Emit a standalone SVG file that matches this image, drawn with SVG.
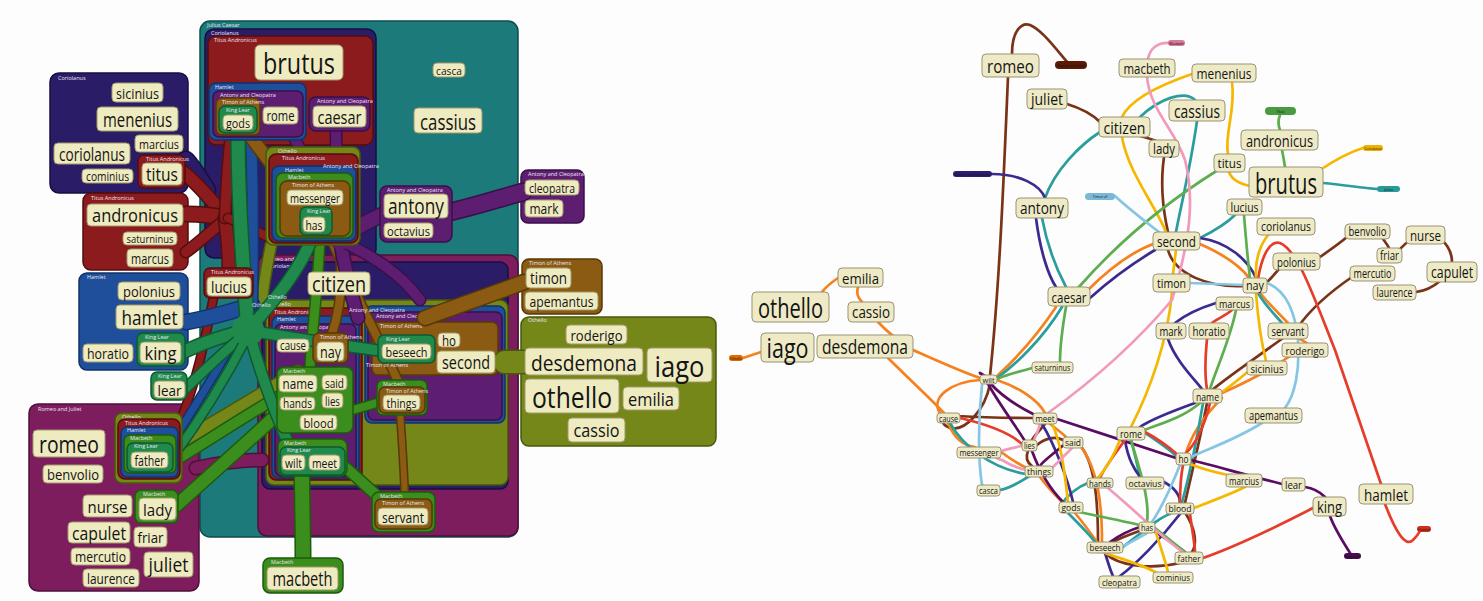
<svg xmlns="http://www.w3.org/2000/svg" xmlns:xlink="http://www.w3.org/1999/xlink" width="1483" height="601" viewBox="0 0 1483 601">
<style>
.jc{fill:#1d7a7b;stroke:#0e4c4d;stroke-width:1.5}
.co{fill:#2b1c68;stroke:#170e42;stroke-width:1.5}
.ti{fill:#8b1b1d;stroke:#560d0e;stroke-width:1.5}
.ha{fill:#1f4f9b;stroke:#11336a;stroke-width:1.5}
.ac{fill:#5d1e71;stroke:#3a0f4a;stroke-width:1.5}
.tm{fill:#8b5a13;stroke:#573806;stroke-width:1.5}
.kl{fill:#1f8a4c;stroke:#0e5a2f;stroke-width:1.5}
.mb{fill:#3b8d1d;stroke:#1d5b0b;stroke-width:1.5}
.ot{fill:#76871a;stroke:#4a580b;stroke-width:1.5}
.rj{fill:#7d1d5e;stroke:#4f0f3b;stroke-width:1.5}
.gl{font-family:"Open Sans","Noto Sans",sans-serif;font-size:5.5px;fill:#ece6f6}
.nl rect{fill:#efebc1;stroke:#a2996b;stroke-width:1}
.nr rect{fill:#eeeac6;stroke:#9a9374;stroke-width:1}
.t{font-family:"Open Sans","Noto Sans",sans-serif;fill:#141414;text-anchor:middle;dominant-baseline:central}
.tent{fill:none;stroke-linecap:round;stroke-linejoin:round}
.o-kl{stroke:#0e5a2f}.f-kl{stroke:#1f8a4c}
.o-mb{stroke:#1d5b0b}.f-mb{stroke:#3b8d1d}
.o-ti{stroke:#560d0e}.f-ti{stroke:#8b1b1d}
.o-ha{stroke:#11336a}.f-ha{stroke:#1f4f9b}
.o-ac{stroke:#3a0f4a}.f-ac{stroke:#5d1e71}
.o-tm{stroke:#573806}.f-tm{stroke:#8b5a13}
.o-ot{stroke:#4a580b}.f-ot{stroke:#76871a}
.o-co{stroke:#170e42}.f-co{stroke:#2b1c68}
.o-rj{stroke:#4f0f3b}.f-rj{stroke:#7d1d5e}
.e{fill:none;stroke-width:2.7;stroke-linecap:round}
.br{stroke:#7a3317}.or{stroke:#f5821f}.te{stroke:#2a9e9c}.in{stroke:#3b2a8f}
.pu{stroke:#5a0c63}.re{stroke:#e63c2a}.ye{stroke:#f5b700}.gr{stroke:#5cae4e}
.pk{stroke:#f19abb}.lb{stroke:#86c6e4}
.tag text{font-family:"Open Sans",sans-serif;font-size:3.5px;fill:#111;text-anchor:middle;dominant-baseline:central}
</style>
<defs>
<path id="tg1" d="M238,132 C238,200 243,270 248,330"/>
<path id="tg2" d="M314,234 C300,270 275,300 250,328"/>
<path id="tg3" d="M248,330 C225,335 205,342 183,352"/>
<path id="tg4" d="M248,332 C225,350 205,370 186,388"/>
<path id="tg5" d="M248,335 C225,380 200,420 172,458"/>
<path id="tg6" d="M248,330 C290,338 340,345 382,351"/>
<path id="tg7" d="M250,335 C262,380 278,420 292,452"/>
<path id="mb1" d="M177,505 C210,475 250,440 282,410"/>
<path id="mb2" d="M172,462 C210,440 245,415 282,395"/>
<path id="mb3" d="M303,560 C303,530 302,500 302,474"/>
<path id="mb4" d="M382,500 C370,490 358,478 345,467"/>
<path id="mb5" d="M380,402 C370,405 360,408 352,410"/>
<path id="mb6" d="M320,236 C318,290 312,330 310,368"/>
<path id="tr1" d="M183,172 C200,185 210,200 225,215"/>
<path id="tr2" d="M186,214 C200,214 212,215 225,218"/>
<path id="tr3" d="M186,252 C200,242 212,230 225,220"/>
<path id="tr4" d="M225,218 C228,240 229,255 229,270"/>
<path id="tr5" d="M225,218 C226,190 228,165 230,143"/>
<path id="tr6" d="M214,295 C205,340 195,390 178,425"/>
<path id="tr7" d="M228,218 C245,225 258,232 270,238"/>
<path id="hb1" d="M186,322 C210,318 230,312 252,305"/>
<path id="hb2" d="M252,305 C253,240 253,180 251,140"/>
<path id="hb3" d="M250,310 C230,350 205,390 180,430"/>
<path id="ac1" d="M382,215 C365,222 352,230 340,240"/>
<path id="ac2" d="M340,240 C338,200 336,165 336,131"/>
<path id="ac3" d="M340,240 C325,200 305,160 288,124"/>
<path id="ac4" d="M450,212 C480,205 500,198 523,192"/>
<path id="ac5" d="M340,240 C345,270 352,295 358,318"/>
<path id="ac6" d="M340,240 C370,255 400,272 420,300"/>
<path id="tm1" d="M245,128 C260,150 275,170 292,186"/>
<path id="tm2" d="M330,236 C352,290 380,340 400,386"/>
<path id="tm3" d="M400,412 C402,440 404,470 405,500"/>
<path id="tm4" d="M524,282 C490,295 460,305 425,318"/>
<path id="tm5" d="M338,236 C345,280 340,310 332,334"/>
<path id="ol1" d="M524,362 L505,362"/>
<path id="ol2" d="M180,442 C220,420 260,395 298,372"/>
<path id="ol3" d="M272,240 C268,260 264,280 262,300"/>
<path id="ci1" d="M186,160 C195,170 200,180 207,190"/>
<path id="rj1" d="M196,468 C220,463 240,460 262,460"/>
</defs>
<rect x="0" y="0" width="1483" height="601" fill="#fdfdfd"/>

<!-- LEFT PANEL: containers -->
<g id="left-containers">
<g id="box-julius-caesar"><rect class="jc" x="200" y="21" width="318" height="516" rx="10"/><text class="gl" x="207" y="27">Julius Caesar</text></g>
<g id="box-coriolanus-top"><rect class="co" x="205" y="29" width="171" height="229" rx="9"/><text class="gl" x="211" y="35">Coriolanus</text></g>
<g id="box-titus-top"><rect class="ti" x="208" y="36" width="165" height="109" rx="8"/><text class="gl" x="214" y="42">Titus Andronicus</text></g>
<g id="box-romeo-main"><rect class="rj" x="258" y="255" width="260" height="281" rx="9"/><text class="gl" x="265" y="261">Romeo and Juliet</text></g>
<g id="box-coriolanus-low"><rect class="co" x="262" y="262" width="246" height="227" rx="8"/><text class="gl" x="268" y="268">Coriolanus</text></g>
<g id="box-othello-low"><rect class="ot" x="266" y="300" width="242" height="185" rx="8"/><text class="gl" x="272" y="306">Othello</text></g>
<g id="box-titus-low"><rect class="ti" x="269" y="308" width="93" height="172" rx="7"/><text class="gl" x="274" y="314">Titus Andronicus</text></g>
<g id="box-hamlet-low"><rect class="ha" x="272" y="316" width="87" height="162" rx="7"/><text class="gl" x="277" y="321">Hamlet</text></g>
<g id="box-ac-low"><rect class="ac" x="275" y="324" width="81" height="152" rx="6"/><text class="gl" x="280" y="329">Antony and Cleopatra</text></g>
<g id="box-hamlet-right"><rect class="ha" x="365" y="306" width="140" height="117" rx="7"/></g>
<g id="box-ac-right"><rect class="ac" x="368" y="312" width="134" height="108" rx="6"/><text class="gl" x="376" y="318">Antony and Cleopatra</text></g>
<g id="box-timon-second"><rect class="tm" x="372" y="322" width="126" height="53" rx="6"/><text class="gl" x="380" y="328">Timon of Athens</text></g>
<g id="box-coriolanus-left"><rect class="co" x="50" y="73" width="138" height="120" rx="9"/><text class="gl" x="58" y="80">Coriolanus</text></g>
<g id="box-titus-left"><rect class="ti" x="83" y="193" width="105" height="77" rx="8"/><text class="gl" x="91" y="200">Titus Andronicus</text></g>
<g id="box-hamlet-left"><rect class="ha" x="79" y="273" width="109" height="97" rx="8"/><text class="gl" x="87" y="279">Hamlet</text></g>
<g id="box-romeo-left"><rect class="rj" x="29" y="404" width="170" height="187" rx="9"/><text class="gl" x="38" y="411">Romeo and Juliet</text></g>
<g id="box-ac-cleo"><rect class="ac" x="521" y="170" width="63" height="53" rx="7"/><text class="gl" x="528" y="176">Antony and Cleopatra</text></g>
<g id="box-timon-right"><rect class="tm" x="522" y="259" width="80" height="55" rx="7"/><text class="gl" x="529" y="265">Timon of Athens</text></g>
<g id="box-othello-right"><rect class="ot" x="521" y="317" width="195" height="129" rx="8"/><text class="gl" x="528" y="322">Othello</text></g>
</g>

<!-- LEFT PANEL: tentacle connectors -->
<g id="left-connectors" class="tent">
<use href="#ci1" class="o-co" stroke-width="19"/><use href="#ci1" class="f-co" stroke-width="16"/>
<use href="#rj1" class="o-rj" stroke-width="15"/><use href="#rj1" class="f-rj" stroke-width="12"/>
<use href="#ol2" class="o-ot" stroke-width="15"/><use href="#ol2" class="f-ot" stroke-width="12"/>
<use href="#ol3" class="o-ot" stroke-width="13"/><use href="#ol3" class="f-ot" stroke-width="10"/>
<use href="#ol1" class="o-ot" stroke-width="25"/><use href="#ol1" class="f-ot" stroke-width="22"/>
<use href="#tr1" class="o-ti" stroke-width="15"/><use href="#tr1" class="f-ti" stroke-width="12"/>
<use href="#tr2" class="o-ti" stroke-width="17"/><use href="#tr2" class="f-ti" stroke-width="14"/>
<use href="#tr3" class="o-ti" stroke-width="13"/><use href="#tr3" class="f-ti" stroke-width="10"/>
<use href="#tr4" class="o-ti" stroke-width="15"/><use href="#tr4" class="f-ti" stroke-width="12"/>
<use href="#tr5" class="o-ti" stroke-width="13"/><use href="#tr5" class="f-ti" stroke-width="10"/>
<use href="#tr6" class="o-ti" stroke-width="10"/><use href="#tr6" class="f-ti" stroke-width="7"/>
<use href="#tr7" class="o-ti" stroke-width="11"/><use href="#tr7" class="f-ti" stroke-width="8"/>
<use href="#hb1" class="o-ha" stroke-width="17"/><use href="#hb1" class="f-ha" stroke-width="14"/>
<use href="#hb2" class="o-ha" stroke-width="13"/><use href="#hb2" class="f-ha" stroke-width="10"/>
<use href="#hb3" class="o-ha" stroke-width="10"/><use href="#hb3" class="f-ha" stroke-width="7"/>
<use href="#tm1" class="o-tm" stroke-width="15"/><use href="#tm1" class="f-tm" stroke-width="12"/>
<use href="#tm2" class="o-tm" stroke-width="11"/><use href="#tm2" class="f-tm" stroke-width="8"/>
<use href="#tm3" class="o-tm" stroke-width="9"/><use href="#tm3" class="f-tm" stroke-width="6"/>
<use href="#tm4" class="o-tm" stroke-width="17"/><use href="#tm4" class="f-tm" stroke-width="14"/>
<use href="#tm5" class="o-tm" stroke-width="11"/><use href="#tm5" class="f-tm" stroke-width="8"/>
<use href="#ac1" class="o-ac" stroke-width="17"/><use href="#ac1" class="f-ac" stroke-width="14"/>
<use href="#ac2" class="o-ac" stroke-width="13"/><use href="#ac2" class="f-ac" stroke-width="10"/>
<use href="#ac3" class="o-ac" stroke-width="13"/><use href="#ac3" class="f-ac" stroke-width="10"/>
<use href="#ac4" class="o-ac" stroke-width="19"/><use href="#ac4" class="f-ac" stroke-width="16"/>
<use href="#ac5" class="o-ac" stroke-width="15"/><use href="#ac5" class="f-ac" stroke-width="12"/>
<use href="#ac6" class="o-ac" stroke-width="13"/><use href="#ac6" class="f-ac" stroke-width="10"/>
<circle cx="340" cy="240" r="10" fill="#5d1e71"/>
<use href="#mb1" class="o-mb" stroke-width="15"/><use href="#mb1" class="f-mb" stroke-width="12"/>
<use href="#mb2" class="o-mb" stroke-width="13"/><use href="#mb2" class="f-mb" stroke-width="10"/>
<use href="#mb3" class="o-mb" stroke-width="17"/><use href="#mb3" class="f-mb" stroke-width="14"/>
<use href="#mb4" class="o-mb" stroke-width="13"/><use href="#mb4" class="f-mb" stroke-width="10"/>
<use href="#mb5" class="o-mb" stroke-width="11"/><use href="#mb5" class="f-mb" stroke-width="8"/>
<use href="#mb6" class="o-mb" stroke-width="12"/><use href="#mb6" class="f-mb" stroke-width="9"/>
<use href="#tg1" class="o-kl" stroke-width="16"/><use href="#tg1" class="f-kl" stroke-width="13"/>
<use href="#tg2" class="o-kl" stroke-width="14"/><use href="#tg2" class="f-kl" stroke-width="11"/>
<use href="#tg3" class="o-kl" stroke-width="15"/><use href="#tg3" class="f-kl" stroke-width="12"/>
<use href="#tg4" class="o-kl" stroke-width="12"/><use href="#tg4" class="f-kl" stroke-width="9"/>
<use href="#tg5" class="o-kl" stroke-width="11"/><use href="#tg5" class="f-kl" stroke-width="8"/>
<use href="#tg6" class="o-kl" stroke-width="13"/><use href="#tg6" class="f-kl" stroke-width="10"/>
<use href="#tg7" class="o-kl" stroke-width="13"/><use href="#tg7" class="f-kl" stroke-width="10"/>
<circle cx="248" cy="330" r="16" fill="#1f8a4c"/>
</g>

<!-- LEFT PANEL: extra group labels -->
<g id="left-labels">
<text class="gl" x="252" y="307">Othello</text>
<text class="gl" x="268" y="299">Othello</text>
<text class="gl" x="349" y="312">Antony and Cleopatra</text>
<text class="gl" x="366" y="367">Timon of Athens</text>
</g>

<!-- LEFT PANEL: nested node boxes -->
<g id="left-nodes">
<g id="box-hamlet-gods"><rect class="ha" x="209" y="83" width="97" height="57" rx="7"/><text class="gl" x="215" y="89">Hamlet</text></g>
<g id="box-ac-gods"><rect class="ac" x="213" y="91" width="90" height="46" rx="6"/><text class="gl" x="220" y="97">Antony and Cleopatra</text></g>
<g id="box-timon-gods"><rect class="tm" x="216" y="98" width="44" height="37" rx="6"/><text class="gl" x="222" y="104">Timon of Athens</text></g>
<g id="box-kl-gods"><rect class="kl" x="219" y="106" width="38" height="27" rx="6"/><text class="gl" x="226" y="112">King Lear</text></g>
<g id="L-gods" class="nl"><rect x="223" y="115" width="30" height="15" rx="4"/><text class="t" x="238" y="122.5" font-size="13" textLength="24" lengthAdjust="spacingAndGlyphs">gods</text></g>
<g id="L-rome" class="nl"><rect x="263" y="107" width="35" height="17" rx="4"/><text class="t" x="280.5" y="115.5" font-size="14" textLength="28" lengthAdjust="spacingAndGlyphs">rome</text></g>
<g id="box-ac-caesar"><rect class="ac" x="309" y="97" width="61" height="34" rx="7"/><text class="gl" x="317" y="103">Antony and Cleopatra</text></g>
<g id="L-caesar" class="nl"><rect x="313" y="106" width="53" height="21" rx="4"/><text class="t" x="339.5" y="116.5" font-size="18" textLength="44" lengthAdjust="spacingAndGlyphs">caesar</text></g>
<g id="L-brutus" class="nl"><rect x="255" y="45" width="88" height="35" rx="5"/><text class="t" x="299" y="62.5" font-size="30" textLength="72" lengthAdjust="spacingAndGlyphs">brutus</text></g>
<g id="L-casca" class="nl"><rect x="433" y="63" width="32" height="14" rx="4"/><text class="t" x="449" y="70" font-size="11" textLength="26" lengthAdjust="spacingAndGlyphs">casca</text></g>
<g id="L-cassius" class="nl"><rect x="414" y="108" width="68" height="25" rx="4"/><text class="t" x="448" y="120.5" font-size="22" textLength="56" lengthAdjust="spacingAndGlyphs">cassius</text></g>

<g id="box-othello-mess"><rect class="ot" x="266" y="147" width="94" height="98" rx="7"/><text class="gl" x="278" y="153">Othello</text></g>
<g id="box-titus-mess"><rect class="ti" x="269" y="154" width="89" height="89" rx="7"/><text class="gl" x="282" y="160">Titus Andronicus</text></g>
<g id="box-hamlet-mess"><rect class="ha" x="272" y="166" width="84" height="75" rx="7"/><text class="gl" x="285" y="172">Hamlet</text></g>
<g id="box-macbeth-mess"><rect class="mb" x="276" y="173" width="77" height="65" rx="7"/><text class="gl" x="288" y="179">Macbeth</text></g>
<g id="box-timon-mess"><rect class="tm" x="280" y="181" width="70" height="55" rx="7"/><text class="gl" x="292" y="187">Timon of Athens</text></g>
<text class="gl" x="323" y="168">Antony and Cleopatra</text>
<g id="L-messenger" class="nl"><rect x="287" y="190" width="56" height="15" rx="4"/><text class="t" x="315" y="197.5" font-size="13" textLength="50" lengthAdjust="spacingAndGlyphs">messenger</text></g>
<g id="box-kl-has"><rect class="kl" x="300" y="207" width="32" height="28" rx="6"/><text class="gl" x="307" y="213">King Lear</text></g>
<g id="L-has" class="nl"><rect x="303" y="217" width="22" height="15" rx="4"/><text class="t" x="314" y="224.5" font-size="13" textLength="17" lengthAdjust="spacingAndGlyphs">has</text></g>

<g id="box-ac-antony"><rect class="ac" x="380" y="186" width="72" height="56" rx="7"/><text class="gl" x="387" y="192">Antony and Cleopatra</text></g>
<g id="L-antony" class="nl"><rect x="384" y="194" width="64" height="24" rx="4"/><text class="t" x="416" y="206" font-size="21" textLength="56" lengthAdjust="spacingAndGlyphs">antony</text></g>
<g id="L-octavius" class="nl"><rect x="384" y="223" width="49" height="15" rx="4"/><text class="t" x="408.5" y="230.5" font-size="13" textLength="43" lengthAdjust="spacingAndGlyphs">octavius</text></g>
<g id="L-citizen" class="nl"><rect x="308" y="272" width="62" height="23" rx="4"/><text class="t" x="339" y="283.5" font-size="21" textLength="54" lengthAdjust="spacingAndGlyphs">citizen</text></g>
<g id="box-titus-lucius"><rect class="ti" x="204" y="268" width="49" height="30" rx="6"/><text class="gl" x="211" y="274">Titus Andronicus</text></g>
<g id="L-lucius" class="nl"><rect x="207" y="277" width="44" height="19" rx="4"/><text class="t" x="229" y="286.5" font-size="17" textLength="36" lengthAdjust="spacingAndGlyphs">lucius</text></g>

<g id="L-cause" class="nl"><rect x="277" y="339" width="32" height="13" rx="4"/><text class="t" x="293" y="345.5" font-size="12" textLength="26" lengthAdjust="spacingAndGlyphs">cause</text></g>
<g id="box-timon-nay"><rect class="tm" x="313" y="333" width="35" height="30" rx="6"/><text class="gl" x="320" y="339">Timon of Athens</text></g>
<g id="L-nay" class="nl"><rect x="317" y="342" width="27" height="19" rx="4"/><text class="t" x="330.5" y="351.5" font-size="17" textLength="21" lengthAdjust="spacingAndGlyphs">nay</text></g>
<g id="box-kl-beseech"><rect class="kl" x="378" y="335" width="57" height="28" rx="6"/><text class="gl" x="386" y="341">King Lear</text></g>
<g id="L-beseech" class="nl"><rect x="382" y="344" width="49" height="15" rx="4"/><text class="t" x="406.5" y="351.5" font-size="13" textLength="42" lengthAdjust="spacingAndGlyphs">beseech</text></g>
<g id="L-ho" class="nl"><rect x="438" y="333" width="22" height="14" rx="4"/><text class="t" x="449" y="340" font-size="14" textLength="14" lengthAdjust="spacingAndGlyphs">ho</text></g>
<g id="L-second" class="nl"><rect x="437" y="351" width="58" height="22" rx="4"/><text class="t" x="466" y="362" font-size="19" textLength="48" lengthAdjust="spacingAndGlyphs">second</text></g>

<g id="box-macbeth-name"><rect class="mb" x="277" y="367" width="76" height="66" rx="7"/><text class="gl" x="283" y="373">Macbeth</text></g>
<g id="L-name" class="nl"><rect x="279" y="375" width="38" height="17" rx="4"/><text class="t" x="298" y="383.5" font-size="14" textLength="31" lengthAdjust="spacingAndGlyphs">name</text></g>
<g id="L-said" class="nl"><rect x="322" y="375" width="25" height="15" rx="4"/><text class="t" x="334.5" y="382.5" font-size="13" textLength="19" lengthAdjust="spacingAndGlyphs">said</text></g>
<g id="L-hands" class="nl"><rect x="280" y="397" width="35" height="13" rx="4"/><text class="t" x="297.5" y="403.5" font-size="12" textLength="29" lengthAdjust="spacingAndGlyphs">hands</text></g>
<g id="L-lies" class="nl"><rect x="322" y="393" width="21" height="15" rx="4"/><text class="t" x="332.5" y="400.5" font-size="13" textLength="15" lengthAdjust="spacingAndGlyphs">lies</text></g>
<g id="L-blood" class="nl"><rect x="300" y="415" width="37" height="15" rx="4"/><text class="t" x="318.5" y="422.5" font-size="13" textLength="30" lengthAdjust="spacingAndGlyphs">blood</text></g>

<g id="box-macbeth-things"><rect class="mb" x="377" y="380" width="50" height="35" rx="6"/><text class="gl" x="383" y="386">Macbeth</text></g>
<g id="box-timon-things"><rect class="tm" x="379" y="387" width="46" height="26" rx="6"/><text class="gl" x="386" y="393">Timon of Athens</text></g>
<g id="L-things" class="nl"><rect x="383" y="395" width="37" height="15" rx="4"/><text class="t" x="401.5" y="402.5" font-size="13" textLength="30" lengthAdjust="spacingAndGlyphs">things</text></g>

<g id="box-macbeth-wilt"><rect class="mb" x="278" y="439" width="69" height="37" rx="7"/><text class="gl" x="284" y="445">Macbeth</text></g>
<g id="box-kl-wilt"><rect class="kl" x="280" y="447" width="65" height="28" rx="6"/><text class="gl" x="287" y="452">King Lear</text></g>
<g id="L-wilt" class="nl"><rect x="282" y="455" width="23" height="15" rx="4"/><text class="t" x="293.5" y="462.5" font-size="13" textLength="17" lengthAdjust="spacingAndGlyphs">wilt</text></g>
<g id="L-meet" class="nl"><rect x="309" y="455" width="31" height="15" rx="4"/><text class="t" x="324.5" y="462.5" font-size="13" textLength="25" lengthAdjust="spacingAndGlyphs">meet</text></g>

<g id="box-macbeth-servant"><rect class="mb" x="372" y="492" width="63" height="40" rx="7"/><text class="gl" x="380" y="498">Macbeth</text></g>
<g id="box-timon-servant"><rect class="tm" x="375" y="499" width="57" height="30" rx="6"/><text class="gl" x="382" y="505">Timon of Athens</text></g>
<g id="L-servant" class="nl"><rect x="378" y="508" width="50" height="17" rx="4"/><text class="t" x="403" y="516.5" font-size="15" textLength="42" lengthAdjust="spacingAndGlyphs">servant</text></g>

<g id="box-macbeth-macbeth"><rect class="mb" x="263" y="558" width="80" height="35" rx="7"/><text class="gl" x="271" y="564">Macbeth</text></g>
<g id="L-macbeth" class="nl"><rect x="267" y="567" width="71" height="23" rx="4"/><text class="t" x="302.5" y="578.5" font-size="20" textLength="60" lengthAdjust="spacingAndGlyphs">macbeth</text></g>

<g id="L-sicinius" class="nl"><rect x="112" y="83" width="51" height="19" rx="4"/><text class="t" x="137.5" y="92.5" font-size="15" textLength="43" lengthAdjust="spacingAndGlyphs">sicinius</text></g>
<g id="L-menenius" class="nl"><rect x="97" y="107" width="81" height="24" rx="4"/><text class="t" x="137.5" y="119" font-size="20" textLength="69" lengthAdjust="spacingAndGlyphs">menenius</text></g>
<g id="L-marcius" class="nl"><rect x="135" y="135" width="48" height="17" rx="4"/><text class="t" x="159" y="143.5" font-size="13" textLength="40" lengthAdjust="spacingAndGlyphs">marcius</text></g>
<g id="L-coriolanus" class="nl"><rect x="54" y="143" width="76" height="21" rx="4"/><text class="t" x="92" y="153.5" font-size="18" textLength="66" lengthAdjust="spacingAndGlyphs">coriolanus</text></g>
<g id="L-cominius" class="nl"><rect x="82" y="169" width="51" height="14" rx="4"/><text class="t" x="107.5" y="176" font-size="12" textLength="43" lengthAdjust="spacingAndGlyphs">cominius</text></g>
<g id="box-titus-titus"><rect class="ti" x="138" y="155" width="47" height="33" rx="6"/><text class="gl" x="146" y="161">Titus Andronicus</text></g>
<g id="L-titus" class="nl"><rect x="142" y="163" width="40" height="22" rx="4"/><text class="t" x="162" y="174" font-size="19" textLength="32" lengthAdjust="spacingAndGlyphs">titus</text></g>
<g id="L-andronicus" class="nl"><rect x="87" y="204" width="96" height="22" rx="4"/><text class="t" x="135" y="215" font-size="19" textLength="86" lengthAdjust="spacingAndGlyphs">andronicus</text></g>
<g id="L-saturninus" class="nl"><rect x="123" y="232" width="54" height="13" rx="4"/><text class="t" x="150" y="238.5" font-size="11" textLength="47" lengthAdjust="spacingAndGlyphs">saturninus</text></g>
<g id="L-marcus" class="nl"><rect x="127" y="249" width="46" height="18" rx="4"/><text class="t" x="150" y="258" font-size="14" textLength="38" lengthAdjust="spacingAndGlyphs">marcus</text></g>
<g id="L-polonius" class="nl"><rect x="118" y="282" width="62" height="18" rx="4"/><text class="t" x="149" y="291" font-size="15" textLength="52" lengthAdjust="spacingAndGlyphs">polonius</text></g>
<g id="L-hamlet" class="nl"><rect x="116" y="305" width="67" height="24" rx="4"/><text class="t" x="149.5" y="317" font-size="20" textLength="56" lengthAdjust="spacingAndGlyphs">hamlet</text></g>
<g id="L-horatio" class="nl"><rect x="83" y="344" width="50" height="18" rx="4"/><text class="t" x="108" y="353" font-size="14" textLength="42" lengthAdjust="spacingAndGlyphs">horatio</text></g>
<g id="box-kl-king"><rect class="kl" x="137" y="333" width="48" height="33" rx="6"/><text class="gl" x="145" y="339">King Lear</text></g>
<g id="L-king" class="nl"><rect x="140" y="342" width="41" height="21" rx="4"/><text class="t" x="160.5" y="352.5" font-size="18" textLength="32" lengthAdjust="spacingAndGlyphs">king</text></g>
<g id="box-kl-lear"><rect class="kl" x="151" y="372" width="36" height="28" rx="6"/><text class="gl" x="158" y="378">King Lear</text></g>
<g id="L-lear" class="nl"><rect x="154" y="381" width="31" height="17" rx="4"/><text class="t" x="169.5" y="389.5" font-size="15" textLength="24" lengthAdjust="spacingAndGlyphs">lear</text></g>

<g id="L-romeo" class="nl"><rect x="33" y="430" width="72" height="27" rx="4"/><text class="t" x="69" y="443.5" font-size="23" textLength="60" lengthAdjust="spacingAndGlyphs">romeo</text></g>
<g id="L-benvolio" class="nl"><rect x="43" y="465" width="60" height="18" rx="4"/><text class="t" x="73" y="474" font-size="15" textLength="52" lengthAdjust="spacingAndGlyphs">benvolio</text></g>
<g id="L-nurse" class="nl"><rect x="83" y="495" width="49" height="22" rx="4"/><text class="t" x="107.5" y="506" font-size="17" textLength="40" lengthAdjust="spacingAndGlyphs">nurse</text></g>
<g id="L-capulet" class="nl"><rect x="68" y="522" width="62" height="21" rx="4"/><text class="t" x="99" y="532.5" font-size="18" textLength="54" lengthAdjust="spacingAndGlyphs">capulet</text></g>
<g id="L-friar" class="nl"><rect x="134" y="527" width="33" height="20" rx="4"/><text class="t" x="150.5" y="537" font-size="15" textLength="26" lengthAdjust="spacingAndGlyphs">friar</text></g>
<g id="L-mercutio" class="nl"><rect x="71" y="548" width="59" height="17" rx="4"/><text class="t" x="100.5" y="556.5" font-size="14" textLength="51" lengthAdjust="spacingAndGlyphs">mercutio</text></g>
<g id="L-juliet" class="nl"><rect x="144" y="552" width="49" height="25" rx="4"/><text class="t" x="168.5" y="564.5" font-size="20" textLength="40" lengthAdjust="spacingAndGlyphs">juliet</text></g>
<g id="L-laurence" class="nl"><rect x="83" y="569" width="56" height="18" rx="4"/><text class="t" x="111" y="578" font-size="14" textLength="48" lengthAdjust="spacingAndGlyphs">laurence</text></g>
<g id="box-othello-father"><rect class="ot" x="115" y="413" width="67" height="70" rx="7"/><text class="gl" x="122" y="419">Othello</text></g>
<g id="box-titus-father"><rect class="ti" x="118" y="419" width="62" height="60" rx="7"/><text class="gl" x="125" y="425">Titus Andronicus</text></g>
<g id="box-hamlet-father"><rect class="ha" x="121" y="427" width="57" height="50" rx="6"/><text class="gl" x="127" y="432">Hamlet</text></g>
<g id="box-macbeth-father"><rect class="mb" x="124" y="435" width="52" height="38" rx="6"/><text class="gl" x="130" y="440">Macbeth</text></g>
<g id="box-kl-father"><rect class="kl" x="127" y="443" width="46" height="29" rx="6"/><text class="gl" x="134" y="448">King Lear</text></g>
<g id="L-father" class="nl"><rect x="131" y="452" width="37" height="16" rx="4"/><text class="t" x="149.5" y="460" font-size="14" textLength="30" lengthAdjust="spacingAndGlyphs">father</text></g>
<g id="box-macbeth-lady"><rect class="mb" x="135" y="490" width="43" height="33" rx="6"/><text class="gl" x="143" y="496">Macbeth</text></g>
<g id="L-lady" class="nl"><rect x="139" y="498" width="37" height="22" rx="4"/><text class="t" x="157.5" y="509" font-size="17" textLength="29" lengthAdjust="spacingAndGlyphs">lady</text></g>

<g id="L-cleopatra" class="nl"><rect x="525" y="180" width="54" height="15" rx="4"/><text class="t" x="552" y="187.5" font-size="13" textLength="46" lengthAdjust="spacingAndGlyphs">cleopatra</text></g>
<g id="L-mark" class="nl"><rect x="525" y="200" width="38" height="17" rx="4"/><text class="t" x="544" y="208.5" font-size="14" textLength="29" lengthAdjust="spacingAndGlyphs">mark</text></g>
<g id="L-timon" class="nl"><rect x="526" y="268" width="45" height="20" rx="4"/><text class="t" x="548.5" y="278" font-size="16" textLength="37" lengthAdjust="spacingAndGlyphs">timon</text></g>
<g id="L-apemantus" class="nl"><rect x="525" y="292" width="73" height="18" rx="4"/><text class="t" x="561.5" y="301" font-size="14" textLength="64" lengthAdjust="spacingAndGlyphs">apemantus</text></g>
<g id="L-roderigo" class="nl"><rect x="566" y="325" width="61" height="19" rx="4"/><text class="t" x="596.5" y="334.5" font-size="15" textLength="52" lengthAdjust="spacingAndGlyphs">roderigo</text></g>
<g id="L-desdemona" class="nl"><rect x="525" y="348" width="118" height="27" rx="4"/><text class="t" x="584" y="361.5" font-size="22" textLength="106" lengthAdjust="spacingAndGlyphs">desdemona</text></g>
<g id="L-iago" class="nl"><rect x="647" y="348" width="65" height="34" rx="4"/><text class="t" x="679.5" y="365" font-size="30" textLength="50" lengthAdjust="spacingAndGlyphs">iago</text></g>
<g id="L-othello" class="nl"><rect x="525" y="379" width="94" height="34" rx="4"/><text class="t" x="572" y="396" font-size="30" textLength="80" lengthAdjust="spacingAndGlyphs">othello</text></g>
<g id="L-emilia" class="nl"><rect x="623" y="387" width="56" height="23" rx="4"/><text class="t" x="651" y="398.5" font-size="18" textLength="46" lengthAdjust="spacingAndGlyphs">emilia</text></g>
<g id="L-cassio" class="nl"><rect x="568" y="418" width="57" height="24" rx="4"/><text class="t" x="596.5" y="430" font-size="18" textLength="46" lengthAdjust="spacingAndGlyphs">cassio</text></g>
</g>

<!-- RIGHT PANEL: connectors -->
<g id="right-connectors">
<path class="e br" d="M1012,54 C1012,30 1022,22 1030,25 C1042,30 1055,48 1068,63"/>
<path class="e br" d="M1008,77 C1004,170 1000,280 990,376"/>
<path class="e br" d="M1067,104 C1080,108 1092,114 1100,122"/>
<path class="e br" d="M1140,136 C1148,138 1155,140 1158,142"/>
<path class="e br" d="M1164,157 C1160,185 1163,210 1168,232"/>
<path class="e br" d="M1168,250 C1175,275 1210,288 1245,286"/>
<path class="e br" d="M1266,283 C1272,278 1276,272 1280,268"/>
<path class="e br" d="M1320,257 C1330,250 1340,243 1347,237"/>
<path class="e br" d="M1383,239 C1386,243 1388,246 1389,248"/>
<path class="e br" d="M1399,250 C1403,246 1407,242 1410,240"/>
<path class="e br" d="M1440,238 C1448,245 1452,254 1452,262"/>
<path class="e br" d="M1440,281 C1432,288 1424,291 1416,292"/>
<path class="e br" d="M1352,277 C1330,292 1310,310 1298,327 L1290,333 C1260,355 1230,375 1212,390"/>
<path class="e br" d="M1207,403 C1200,440 1190,480 1185,503"/>
<path class="e br" d="M1186,514 C1196,530 1197,545 1192,552"/>
<path class="e br" d="M1180,563 C1150,570 1118,566 1105,553"/>
<path class="e br" d="M1145,529 C1128,535 1115,540 1107,545"/>
<path class="e br" d="M1078,443 C1095,460 1098,500 1098,542"/>
<path class="e br" d="M1045,424 C1040,430 1035,435 1032,440"/>
<path class="e br" d="M1028,451 C1025,458 1028,463 1032,466"/>
<path class="e br" d="M990,384 C985,410 965,432 950,428 C938,424 942,414 958,416 C990,418 1015,418 1033,418"/>
<path class="e br" d="M1037,445 C1045,438 1055,436 1063,440"/>

<path class="e or" d="M743,358 L761,352"/>
<path class="e or" d="M838,278 C832,282 826,287 822,292"/>
<path class="e or" d="M858,287 C856,293 858,298 862,302"/>
<path class="e or" d="M878,322 C890,335 900,342 913,350 C940,362 962,372 980,378"/>
<path class="e or" d="M888,358 C908,378 930,398 944,413"/>
<path class="e or" d="M940,413 C930,398 950,382 980,380"/>
<path class="e or" d="M997,376 C1020,355 1042,328 1056,307"/>
<path class="e or" d="M1088,290 C1110,268 1132,252 1153,244"/>
<path class="e or" d="M1200,244 C1225,255 1242,268 1250,279"/>
<path class="e or" d="M1260,293 C1270,305 1280,315 1288,323"/>
<path class="e or" d="M1300,339 C1304,341 1306,343 1308,344"/>
<path class="e or" d="M1290,356 C1270,370 1240,385 1222,393"/>
<path class="e or" d="M997,380 C1020,388 1038,400 1045,413"/>
<path class="e or" d="M1050,424 C1058,430 1063,434 1066,437"/>
<path class="e or" d="M1082,448 C1097,470 1102,500 1102,542"/>
<path class="e or" d="M948,423 C955,440 965,446 975,447"/>
<path class="e or" d="M1001,452 C1012,460 1020,465 1027,468"/>
<path class="e or" d="M1040,477 C1048,488 1056,496 1062,502"/>
<path class="e or" d="M1075,513 C1085,525 1092,535 1097,542"/>
<path class="e or" d="M1222,398 C1200,420 1190,440 1186,453"/>

<path class="e te" d="M1045,198 C1055,170 1080,145 1100,132"/>
<path class="e te" d="M1042,218 C1048,250 1058,272 1066,287"/>
<path class="e te" d="M1140,117 C1160,98 1185,90 1195,100"/>
<path class="e te" d="M1197,121 C1190,170 1180,210 1176,232"/>
<path class="e te" d="M1323,183 C1345,185 1362,188 1377,189"/>
<path class="e te" d="M1235,215 C1225,225 1210,233 1200,238"/>
<path class="e te" d="M1062,307 C1042,340 1015,365 997,378"/>
<path class="e te" d="M1258,293 C1265,305 1275,315 1282,323"/>
<path class="e te" d="M1000,490 C1012,488 1022,480 1030,476"/>
<path class="e te" d="M950,423 C962,445 990,468 1026,474"/>
<path class="e te" d="M1068,513 C1080,525 1090,535 1095,542"/>
<path class="e te" d="M1131,440 C1135,455 1138,468 1140,477"/>
<path class="e te" d="M1145,433 C1160,443 1170,450 1176,456"/>
<path class="e te" d="M1203,403 C1197,440 1188,480 1182,503"/>
<path class="e te" d="M1123,547 C1145,530 1160,517 1170,514"/>
<path class="e te" d="M1061,505 C1070,492 1080,486 1088,483"/>

<path class="e in" d="M992,174 C1020,174 1040,185 1045,198"/>
<path class="e in" d="M1036,218 C1040,250 1048,275 1056,287"/>
<path class="e in" d="M1090,298 C1110,280 1135,262 1155,250"/>
<path class="e in" d="M1200,238 C1228,242 1248,260 1256,278"/>
<path class="e in" d="M1216,303 C1200,308 1185,315 1175,323"/>
<path class="e in" d="M1168,339 C1175,360 1195,380 1202,389"/>
<path class="e in" d="M1195,403 C1170,412 1150,420 1140,427"/>
<path class="e in" d="M1125,440 C1128,460 1135,470 1140,477"/>
<path class="e in" d="M1164,482 C1175,488 1180,495 1180,503"/>
<path class="e in" d="M1180,514 C1160,540 1135,565 1120,576"/>
<path class="e in" d="M1105,553 C1108,562 1110,570 1113,576"/>
<path class="e in" d="M1042,424 C1055,445 1068,480 1073,502"/>

<path class="e pu" d="M1330,516 C1335,530 1345,545 1352,556"/>
<path class="e pu" d="M1325,497 C1318,490 1312,488 1305,487"/>
<path class="e pu" d="M1282,484 C1250,476 1215,466 1191,460"/>
<path class="e pu" d="M1176,458 C1140,446 1090,430 1057,419"/>
<path class="e pu" d="M990,383 C1005,400 1025,410 1035,415"/>
<path class="e pu" d="M988,384 C1000,405 1015,425 1025,441"/>
<path class="e pu" d="M1032,451 C1042,478 1055,494 1063,502"/>
<path class="e pu" d="M1150,529 C1165,537 1178,547 1185,552"/>
<path class="e pu" d="M1110,542 C1120,535 1130,530 1140,527"/>
<path class="e pu" d="M1066,443 C1052,455 1042,462 1040,466"/>
<path class="e pu" d="M980,373 L988,378"/>

<path class="e re" d="M1385,504 C1395,530 1405,548 1413,540 C1417,536 1419,533 1420,531"/>
<path class="e re" d="M1258,279 C1262,255 1270,240 1280,243 C1298,250 1315,300 1335,350 L1381,484"/>
<path class="e re" d="M1313,508 C1280,525 1240,545 1203,558"/>
<path class="e re" d="M1232,310 C1225,316 1215,320 1212,323"/>
<path class="e re" d="M1207,339 C1205,360 1205,378 1207,389"/>
<path class="e re" d="M1210,403 C1205,425 1195,445 1186,453"/>
<path class="e re" d="M1183,465 C1180,480 1180,495 1180,503"/>
<path class="e re" d="M960,418 C990,425 1010,433 1022,444"/>
<path class="e re" d="M1125,440 C1112,458 1104,468 1100,478"/>
<path class="e re" d="M1145,432 C1160,440 1170,448 1178,455"/>
<path class="e re" d="M1190,514 C1192,530 1195,545 1195,552"/>

<path class="e ye" d="M1320,170 C1335,160 1350,152 1363,148"/>
<path class="e ye" d="M1192,74 C1160,85 1130,100 1122,117"/>
<path class="e ye" d="M1122,137 C1128,172 1155,205 1166,232"/>
<path class="e ye" d="M1232,82 C1236,110 1224,135 1228,154"/>
<path class="e ye" d="M1229,172 C1232,180 1240,184 1250,186"/>
<path class="e ye" d="M1268,235 C1258,248 1255,262 1256,278"/>
<path class="e ye" d="M1176,250 L1173,274"/>
<path class="e ye" d="M1172,292 C1168,340 1150,390 1131,427"/>
<path class="e ye" d="M1256,293 C1258,320 1262,345 1266,361"/>
<path class="e ye" d="M1194,508 C1215,500 1235,492 1245,487"/>
<path class="e ye" d="M1190,464 C1205,470 1218,473 1228,475"/>
<path class="e ye" d="M1120,440 C1112,460 1105,470 1098,478"/>
<path class="e ye" d="M1105,553 C1125,560 1145,566 1155,572"/>
<path class="e ye" d="M1155,530 C1160,545 1165,560 1168,572"/>
<path class="e ye" d="M1052,424 C1060,440 1064,465 1068,502"/>
<path class="e ye" d="M1250,370 C1238,380 1228,388 1222,392"/>

<path class="e gr" d="M1280,115 C1278,120 1278,125 1280,130"/>
<path class="e gr" d="M1282,150 C1283,155 1284,160 1285,167"/>
<path class="e gr" d="M1218,170 C1170,200 1120,240 1078,288"/>
<path class="e gr" d="M1066,307 C1062,330 1060,345 1060,362"/>
<path class="e gr" d="M1032,368 C1018,372 1005,375 997,379"/>
<path class="e gr" d="M1244,215 C1246,240 1248,262 1250,278"/>
<path class="e gr" d="M1236,310 C1230,340 1215,372 1210,389"/>
<path class="e gr" d="M1131,440 C1140,470 1150,500 1147,522"/>
<path class="e gr" d="M1155,528 C1170,540 1180,548 1185,552"/>
<path class="e gr" d="M1200,403 C1180,420 1155,425 1145,430"/>
<path class="e gr" d="M1062,508 C1090,515 1120,520 1139,525"/>

<path class="e pk" d="M1170,43 C1158,42 1150,48 1148,59"/>
<path class="e pk" d="M1147,77 C1150,110 1175,130 1185,160 C1195,200 1190,240 1172,300 C1130,350 1080,390 1048,413"/>
<path class="e pk" d="M1040,424 C1038,432 1036,436 1034,440"/>
<path class="e pk" d="M1022,446 C1000,450 985,455 1002,460 C1015,468 1025,470 1028,470"/>
<path class="e pk" d="M1050,470 C1060,460 1070,450 1072,448"/>
<path class="e pk" d="M1108,488 C1140,515 1165,540 1183,552"/>

<path class="e lb" d="M1115,196 C1130,210 1150,225 1160,233"/>
<path class="e lb" d="M1190,283 L1243,285"/>
<path class="e lb" d="M1267,283 C1285,290 1295,310 1298,340 C1300,370 1295,395 1285,408"/>
<path class="e lb" d="M1262,423 C1235,440 1205,450 1191,457"/>
<path class="e lb" d="M1180,465 C1170,490 1160,510 1152,522"/>
<path class="e lb" d="M982,385 C978,420 978,460 982,485"/>
<path class="e lb" d="M1147,533 C1135,540 1125,545 1122,547"/>
</g>

<!-- RIGHT PANEL: play tags -->
<g id="right-tags" class="tag">
<g id="tag-romeo"><rect x="1055" y="61" width="32" height="8" rx="4" fill="#5a1a05"/><text x="1071" y="65">Romeo and Juliet</text></g>
<g id="tag-ac"><rect x="953" y="171" width="39" height="6" rx="3" fill="#2e1d70"/><text x="972.5" y="174">Antony and Cleopatra</text></g>
<g id="tag-timon"><rect x="1085" y="193" width="30" height="7" rx="3.5" fill="#7ab8d8"/><text x="1100" y="196.5">Timon of</text></g>
<g id="tag-macbeth"><rect x="1168" y="40" width="17" height="6" rx="3" fill="#d87a9a"/><text x="1176.5" y="43">Macbeth</text></g>
<g id="tag-titus"><rect x="1265" y="107" width="31" height="8" rx="4" fill="#4a9a40"/><text x="1280.5" y="111">Titus</text></g>
<g id="tag-coriolanus"><rect x="1363" y="145" width="20" height="6" rx="3" fill="#f0b000"/><text x="1373" y="148">Coriolanus</text></g>
<g id="tag-julius"><rect x="1377" y="186" width="23" height="6" rx="3" fill="#2a9a98"/><text x="1388.5" y="189">Julius</text></g>
<g id="tag-othello"><rect x="729" y="355" width="14" height="6" rx="3" fill="#e06a00"/><text x="736" y="358">Othello</text></g>
<g id="tag-hamlet"><rect x="1417" y="526" width="14" height="6" rx="3" fill="#d03020"/><text x="1424" y="529">Hamlet</text></g>
<g id="tag-lear"><rect x="1344" y="553" width="17" height="6" rx="3" fill="#4a0a50"/><text x="1352.5" y="556">King Lear</text></g>
</g>

<!-- RIGHT PANEL: nodes -->
<g id="right-nodes">
<g id="R-romeo" class="nr"><rect x="982" y="54" width="57" height="23" rx="4"/><text class="t" x="1010.5" y="65.5" font-size="19" textLength="47" lengthAdjust="spacingAndGlyphs">romeo</text></g>
<g id="R-juliet" class="nr"><rect x="1027" y="89" width="40" height="20" rx="4"/><text class="t" x="1047" y="99" font-size="16" textLength="32" lengthAdjust="spacingAndGlyphs">juliet</text></g>
<g id="R-antony" class="nr"><rect x="1016" y="198" width="52" height="20" rx="4"/><text class="t" x="1042" y="208" font-size="16" textLength="44" lengthAdjust="spacingAndGlyphs">antony</text></g>
<g id="R-emilia" class="nr"><rect x="838" y="268" width="45" height="19" rx="4"/><text class="t" x="860.5" y="277.5" font-size="15" textLength="37" lengthAdjust="spacingAndGlyphs">emilia</text></g>
<g id="R-othello" class="nr"><rect x="752" y="292" width="77" height="30" rx="4"/><text class="t" x="790.5" y="307" font-size="27" textLength="65" lengthAdjust="spacingAndGlyphs">othello</text></g>
<g id="R-cassio" class="nr"><rect x="848" y="302" width="46" height="20" rx="4"/><text class="t" x="871" y="312" font-size="16" textLength="38" lengthAdjust="spacingAndGlyphs">cassio</text></g>
<g id="R-iago" class="nr"><rect x="761" y="333" width="53" height="29" rx="4"/><text class="t" x="787.5" y="347.5" font-size="27" textLength="42" lengthAdjust="spacingAndGlyphs">iago</text></g>
<g id="R-desdemona" class="nr"><rect x="817" y="335" width="96" height="23" rx="4"/><text class="t" x="865" y="346.5" font-size="20" textLength="86" lengthAdjust="spacingAndGlyphs">desdemona</text></g>
<g id="R-caesar" class="nr"><rect x="1048" y="287" width="42" height="19" rx="4"/><text class="t" x="1069" y="296.5" font-size="15" textLength="35" lengthAdjust="spacingAndGlyphs">caesar</text></g>
<g id="R-saturninus" class="nr"><rect x="1032" y="362" width="41" height="11" rx="3"/><text class="t" x="1052.5" y="367.5" font-size="9" textLength="36" lengthAdjust="spacingAndGlyphs">saturninus</text></g>
<g id="R-wilt" class="nr"><rect x="980" y="375" width="17" height="9" rx="3"/><text class="t" x="988.5" y="379.5" font-size="8" textLength="12" lengthAdjust="spacingAndGlyphs">wilt</text></g>
<g id="R-cause" class="nr"><rect x="937" y="413" width="23" height="10" rx="3"/><text class="t" x="948.5" y="418" font-size="8.5" textLength="19" lengthAdjust="spacingAndGlyphs">cause</text></g>
<g id="R-meet" class="nr"><rect x="1033" y="413" width="24" height="11" rx="3"/><text class="t" x="1045" y="418.5" font-size="9" textLength="19" lengthAdjust="spacingAndGlyphs">meet</text></g>
<g id="R-lies" class="nr"><rect x="1022" y="440" width="15" height="11" rx="3"/><text class="t" x="1029.5" y="445.5" font-size="9" textLength="11" lengthAdjust="spacingAndGlyphs">lies</text></g>
<g id="R-said" class="nr"><rect x="1063" y="437" width="20" height="11" rx="3"/><text class="t" x="1073" y="442.5" font-size="9" textLength="16" lengthAdjust="spacingAndGlyphs">said</text></g>
<g id="R-messenger" class="nr"><rect x="957" y="447" width="44" height="11" rx="3"/><text class="t" x="979" y="452.5" font-size="9" textLength="39" lengthAdjust="spacingAndGlyphs">messenger</text></g>
<g id="R-things" class="nr"><rect x="1025" y="466" width="28" height="11" rx="3"/><text class="t" x="1039" y="471.5" font-size="9" textLength="24" lengthAdjust="spacingAndGlyphs">things</text></g>
<g id="R-casca" class="nr"><rect x="977" y="485" width="23" height="11" rx="3"/><text class="t" x="988.5" y="490.5" font-size="9" textLength="19" lengthAdjust="spacingAndGlyphs">casca</text></g>
<g id="R-gods" class="nr"><rect x="1059" y="502" width="24" height="11" rx="3"/><text class="t" x="1071" y="507.5" font-size="9" textLength="19" lengthAdjust="spacingAndGlyphs">gods</text></g>
<g id="R-hands" class="nr"><rect x="1087" y="478" width="26" height="10" rx="3"/><text class="t" x="1100" y="483" font-size="9" textLength="22" lengthAdjust="spacingAndGlyphs">hands</text></g>
<g id="R-rome" class="nr"><rect x="1117" y="427" width="28" height="13" rx="3"/><text class="t" x="1131" y="433.5" font-size="10" textLength="22" lengthAdjust="spacingAndGlyphs">rome</text></g>
<g id="R-octavius" class="nr"><rect x="1126" y="477" width="38" height="12" rx="3"/><text class="t" x="1145" y="483" font-size="9.5" textLength="33" lengthAdjust="spacingAndGlyphs">octavius</text></g>
<g id="R-ho" class="nr"><rect x="1176" y="453" width="15" height="12" rx="3"/><text class="t" x="1183.5" y="459" font-size="10" textLength="10" lengthAdjust="spacingAndGlyphs">ho</text></g>
<g id="R-marcius" class="nr"><rect x="1226" y="474" width="36" height="13" rx="3"/><text class="t" x="1244" y="480.5" font-size="10" textLength="30" lengthAdjust="spacingAndGlyphs">marcius</text></g>
<g id="R-lear" class="nr"><rect x="1282" y="478" width="23" height="13" rx="3"/><text class="t" x="1293.5" y="484.5" font-size="11" textLength="17" lengthAdjust="spacingAndGlyphs">lear</text></g>
<g id="R-king" class="nr"><rect x="1313" y="497" width="33" height="19" rx="4"/><text class="t" x="1329.5" y="506.5" font-size="16" textLength="25" lengthAdjust="spacingAndGlyphs">king</text></g>
<g id="R-hamlet" class="nr"><rect x="1359" y="484" width="54" height="20" rx="4"/><text class="t" x="1386" y="494" font-size="17" textLength="44" lengthAdjust="spacingAndGlyphs">hamlet</text></g>
<g id="R-blood" class="nr"><rect x="1166" y="503" width="28" height="11" rx="3"/><text class="t" x="1180" y="508.5" font-size="9.5" textLength="23" lengthAdjust="spacingAndGlyphs">blood</text></g>
<g id="R-has" class="nr"><rect x="1139" y="522" width="16" height="11" rx="3"/><text class="t" x="1147" y="527.5" font-size="9" textLength="12" lengthAdjust="spacingAndGlyphs">has</text></g>
<g id="R-beseech" class="nr"><rect x="1087" y="542" width="36" height="11" rx="3"/><text class="t" x="1105" y="547.5" font-size="9" textLength="31" lengthAdjust="spacingAndGlyphs">beseech</text></g>
<g id="R-father" class="nr"><rect x="1175" y="552" width="28" height="12" rx="3"/><text class="t" x="1189" y="558" font-size="9.5" textLength="23" lengthAdjust="spacingAndGlyphs">father</text></g>
<g id="R-cleopatra" class="nr"><rect x="1099" y="576" width="41" height="12" rx="3"/><text class="t" x="1119.5" y="582" font-size="9.5" textLength="35" lengthAdjust="spacingAndGlyphs">cleopatra</text></g>
<g id="R-cominius" class="nr"><rect x="1153" y="572" width="40" height="11" rx="3"/><text class="t" x="1173" y="577.5" font-size="9.5" textLength="34" lengthAdjust="spacingAndGlyphs">cominius</text></g>
<g id="R-name" class="nr"><rect x="1193" y="389" width="29" height="14" rx="3"/><text class="t" x="1207.5" y="396" font-size="11" textLength="23" lengthAdjust="spacingAndGlyphs">name</text></g>
<g id="R-apemantus" class="nr"><rect x="1245" y="408" width="57" height="15" rx="4"/><text class="t" x="1273.5" y="415.5" font-size="12" textLength="49" lengthAdjust="spacingAndGlyphs">apemantus</text></g>
<g id="R-sicinius" class="nr"><rect x="1247" y="361" width="40" height="14" rx="3"/><text class="t" x="1267" y="368" font-size="11.5" textLength="33" lengthAdjust="spacingAndGlyphs">sicinius</text></g>
<g id="R-roderigo" class="nr"><rect x="1282" y="343" width="46" height="14" rx="3"/><text class="t" x="1305" y="350" font-size="11.5" textLength="39" lengthAdjust="spacingAndGlyphs">roderigo</text></g>
<g id="R-servant" class="nr"><rect x="1268" y="323" width="40" height="16" rx="4"/><text class="t" x="1288" y="331" font-size="12.5" textLength="33" lengthAdjust="spacingAndGlyphs">servant</text></g>
<g id="R-mark" class="nr"><rect x="1156" y="323" width="30" height="16" rx="4"/><text class="t" x="1171" y="331" font-size="12.5" textLength="23" lengthAdjust="spacingAndGlyphs">mark</text></g>
<g id="R-horatio" class="nr"><rect x="1189" y="323" width="40" height="16" rx="4"/><text class="t" x="1209" y="331" font-size="12.5" textLength="33" lengthAdjust="spacingAndGlyphs">horatio</text></g>
<g id="R-marcus" class="nr"><rect x="1216" y="297" width="37" height="13" rx="3"/><text class="t" x="1234.5" y="303.5" font-size="10.5" textLength="31" lengthAdjust="spacingAndGlyphs">marcus</text></g>
<g id="R-nay" class="nr"><rect x="1243" y="278" width="24" height="15" rx="3"/><text class="t" x="1255" y="285.5" font-size="12" textLength="18" lengthAdjust="spacingAndGlyphs">nay</text></g>
<g id="R-timon" class="nr"><rect x="1153" y="274" width="37" height="18" rx="4"/><text class="t" x="1171.5" y="283" font-size="13" textLength="29" lengthAdjust="spacingAndGlyphs">timon</text></g>
<g id="R-polonius" class="nr"><rect x="1273" y="253" width="47" height="17" rx="4"/><text class="t" x="1296.5" y="261.5" font-size="13" textLength="39" lengthAdjust="spacingAndGlyphs">polonius</text></g>
<g id="R-coriolanus" class="nr"><rect x="1257" y="218" width="58" height="17" rx="4"/><text class="t" x="1286" y="226.5" font-size="12.5" textLength="50" lengthAdjust="spacingAndGlyphs">coriolanus</text></g>
<g id="R-second" class="nr"><rect x="1153" y="232" width="47" height="18" rx="4"/><text class="t" x="1176.5" y="241" font-size="14" textLength="39" lengthAdjust="spacingAndGlyphs">second</text></g>
<g id="R-lucius" class="nr"><rect x="1227" y="199" width="35" height="16" rx="4"/><text class="t" x="1244.5" y="207" font-size="12.5" textLength="28" lengthAdjust="spacingAndGlyphs">lucius</text></g>
<g id="R-titus" class="nr"><rect x="1214" y="154" width="31" height="18" rx="4"/><text class="t" x="1229.5" y="163" font-size="13.5" textLength="24" lengthAdjust="spacingAndGlyphs">titus</text></g>
<g id="R-brutus" class="nr"><rect x="1249" y="167" width="74" height="30" rx="4"/><text class="t" x="1286" y="182" font-size="29" textLength="62" lengthAdjust="spacingAndGlyphs">brutus</text></g>
<g id="R-andronicus" class="nr"><rect x="1241" y="130" width="77" height="20" rx="4"/><text class="t" x="1279.5" y="140" font-size="17" textLength="67" lengthAdjust="spacingAndGlyphs">andronicus</text></g>
<g id="R-cassius" class="nr"><rect x="1169" y="100" width="56" height="21" rx="4"/><text class="t" x="1197" y="110.5" font-size="18" textLength="46" lengthAdjust="spacingAndGlyphs">cassius</text></g>
<g id="R-menenius" class="nr"><rect x="1192" y="64" width="64" height="18" rx="4"/><text class="t" x="1224" y="73" font-size="14" textLength="55" lengthAdjust="spacingAndGlyphs">menenius</text></g>
<g id="R-macbeth" class="nr"><rect x="1119" y="59" width="56" height="18" rx="4"/><text class="t" x="1147" y="68" font-size="14" textLength="47" lengthAdjust="spacingAndGlyphs">macbeth</text></g>
<g id="R-citizen" class="nr"><rect x="1099" y="117" width="51" height="20" rx="4"/><text class="t" x="1124.5" y="127" font-size="17" textLength="42" lengthAdjust="spacingAndGlyphs">citizen</text></g>
<g id="R-lady" class="nr"><rect x="1149" y="140" width="30" height="17" rx="4"/><text class="t" x="1164" y="148.5" font-size="14" textLength="22" lengthAdjust="spacingAndGlyphs">lady</text></g>
<g id="R-benvolio" class="nr"><rect x="1345" y="224" width="45" height="15" rx="4"/><text class="t" x="1367.5" y="231.5" font-size="12" textLength="38" lengthAdjust="spacingAndGlyphs">benvolio</text></g>
<g id="R-friar" class="nr"><rect x="1377" y="248" width="25" height="15" rx="4"/><text class="t" x="1389.5" y="255.5" font-size="12" textLength="19" lengthAdjust="spacingAndGlyphs">friar</text></g>
<g id="R-nurse" class="nr"><rect x="1406" y="226" width="39" height="18" rx="4"/><text class="t" x="1425.5" y="235" font-size="14" textLength="31" lengthAdjust="spacingAndGlyphs">nurse</text></g>
<g id="R-mercutio" class="nr"><rect x="1350" y="266" width="45" height="15" rx="4"/><text class="t" x="1372.5" y="273.5" font-size="12" textLength="38" lengthAdjust="spacingAndGlyphs">mercutio</text></g>
<g id="R-capulet" class="nr"><rect x="1427" y="262" width="50" height="20" rx="4"/><text class="t" x="1452" y="272" font-size="16" textLength="42" lengthAdjust="spacingAndGlyphs">capulet</text></g>
<g id="R-laurence" class="nr"><rect x="1373" y="285" width="43" height="15" rx="4"/><text class="t" x="1394.5" y="292.5" font-size="12" textLength="36" lengthAdjust="spacingAndGlyphs">laurence</text></g>
</g>
</svg>
